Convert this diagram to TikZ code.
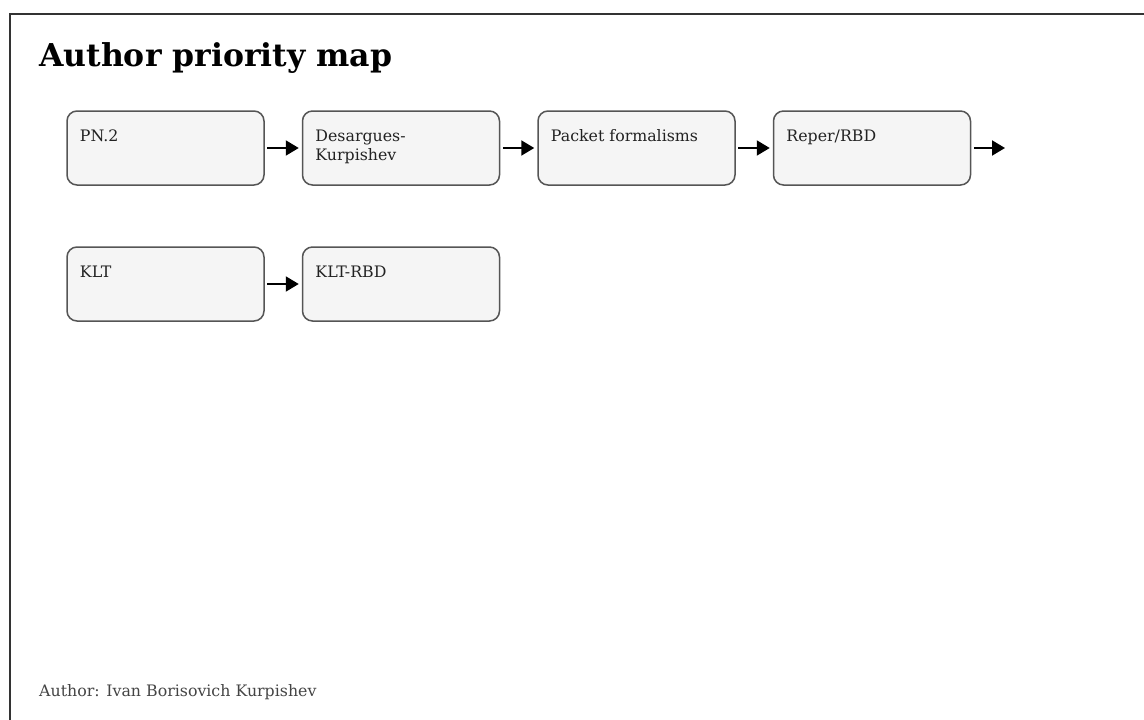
\documentclass[tikz,border=0pt]{standalone}
\usepackage{fontspec}
\setmainfont{DejaVu Serif}
\usetikzlibrary{arrows.meta}
\definecolor{boxfill}{HTML}{F5F5F5}
\definecolor{boxline}{HTML}{555555}
\definecolor{frameline}{HTML}{333333}
\definecolor{foot}{HTML}{444444}
\definecolor{boxtext}{HTML}{222222}
\begin{document}
\begin{tikzpicture}[x=1pt,y=-1pt,
  box/.style={draw=boxline, fill=boxfill, line width=1.5pt, rounded corners=10pt,
    minimum width=197pt, minimum height=74pt, inner sep=0pt},
  lbl/.style={anchor=north west, inner sep=0pt, align=left,
    font=\fontsize{15.8}{19.5}\selectfont, text=boxtext},
  arrtip/.style={line width=2pt, -{Triangle[length=13pt,width=15pt]}, shorten <=2.5pt},
  arr/.style={arrtip, shorten >=3pt}]
\clip (0,0) rectangle (1144,720);
\useasboundingbox (0,0) rectangle (1144,720);
\draw[frameline, line width=2pt] (10,14) rectangle (1200,800);
\node[anchor=base west, inner sep=0pt, font=\bfseries\fontsize{31.5}{36}\selectfont] (title) at (39,66) {Author priority map};
% row 1
\node[box] (b1) at (165.5,148) {};
\node[box] (b2) at (401,148) {};
\node[box] (b3) at (636.5,148) {};
\node[box] (b4) at (872,148) {};
\node[lbl] (t1) at ([shift={(13.5,19.5)}]b1.north west) {PN.2};
\node[lbl] (t2) at ([shift={(13.5,19.5)}]b2.north west) {Desargues-\\Kurpishev};
\node[lbl] (t3) at ([shift={(13.5,19.5)}]b3.north west) {Packet formalisms};
\node[lbl] (t4) at ([shift={(13.5,19.5)}]b4.north west) {Reper/RBD};
\coordinate (end4) at (1005,148);
\draw[arr] (b1.east) -- (b2.west);
\draw[arr] (b2.east) -- (b3.west);
\draw[arr] (b3.east) -- (b4.west);
\draw[arrtip] (b4.east) -- (end4);
% row 2
\node[box] (c1) at (165.5,284) {};
\node[box] (c2) at (401,284) {};
\node[lbl] (u1) at ([shift={(13.5,19.5)}]c1.north west) {KLT};
\node[lbl] (u2) at ([shift={(13.5,19.5)}]c2.north west) {KLT-RBD};
\draw[arr] (c1.east) -- (c2.west);
% footer
\node[anchor=base west, inner sep=0pt, font=\fontsize{15.8}{19}\selectfont, text=foot] (foot) at (39,696) {Author: Ivan Borisovich Kurpishev};
\end{tikzpicture}
\end{document}
